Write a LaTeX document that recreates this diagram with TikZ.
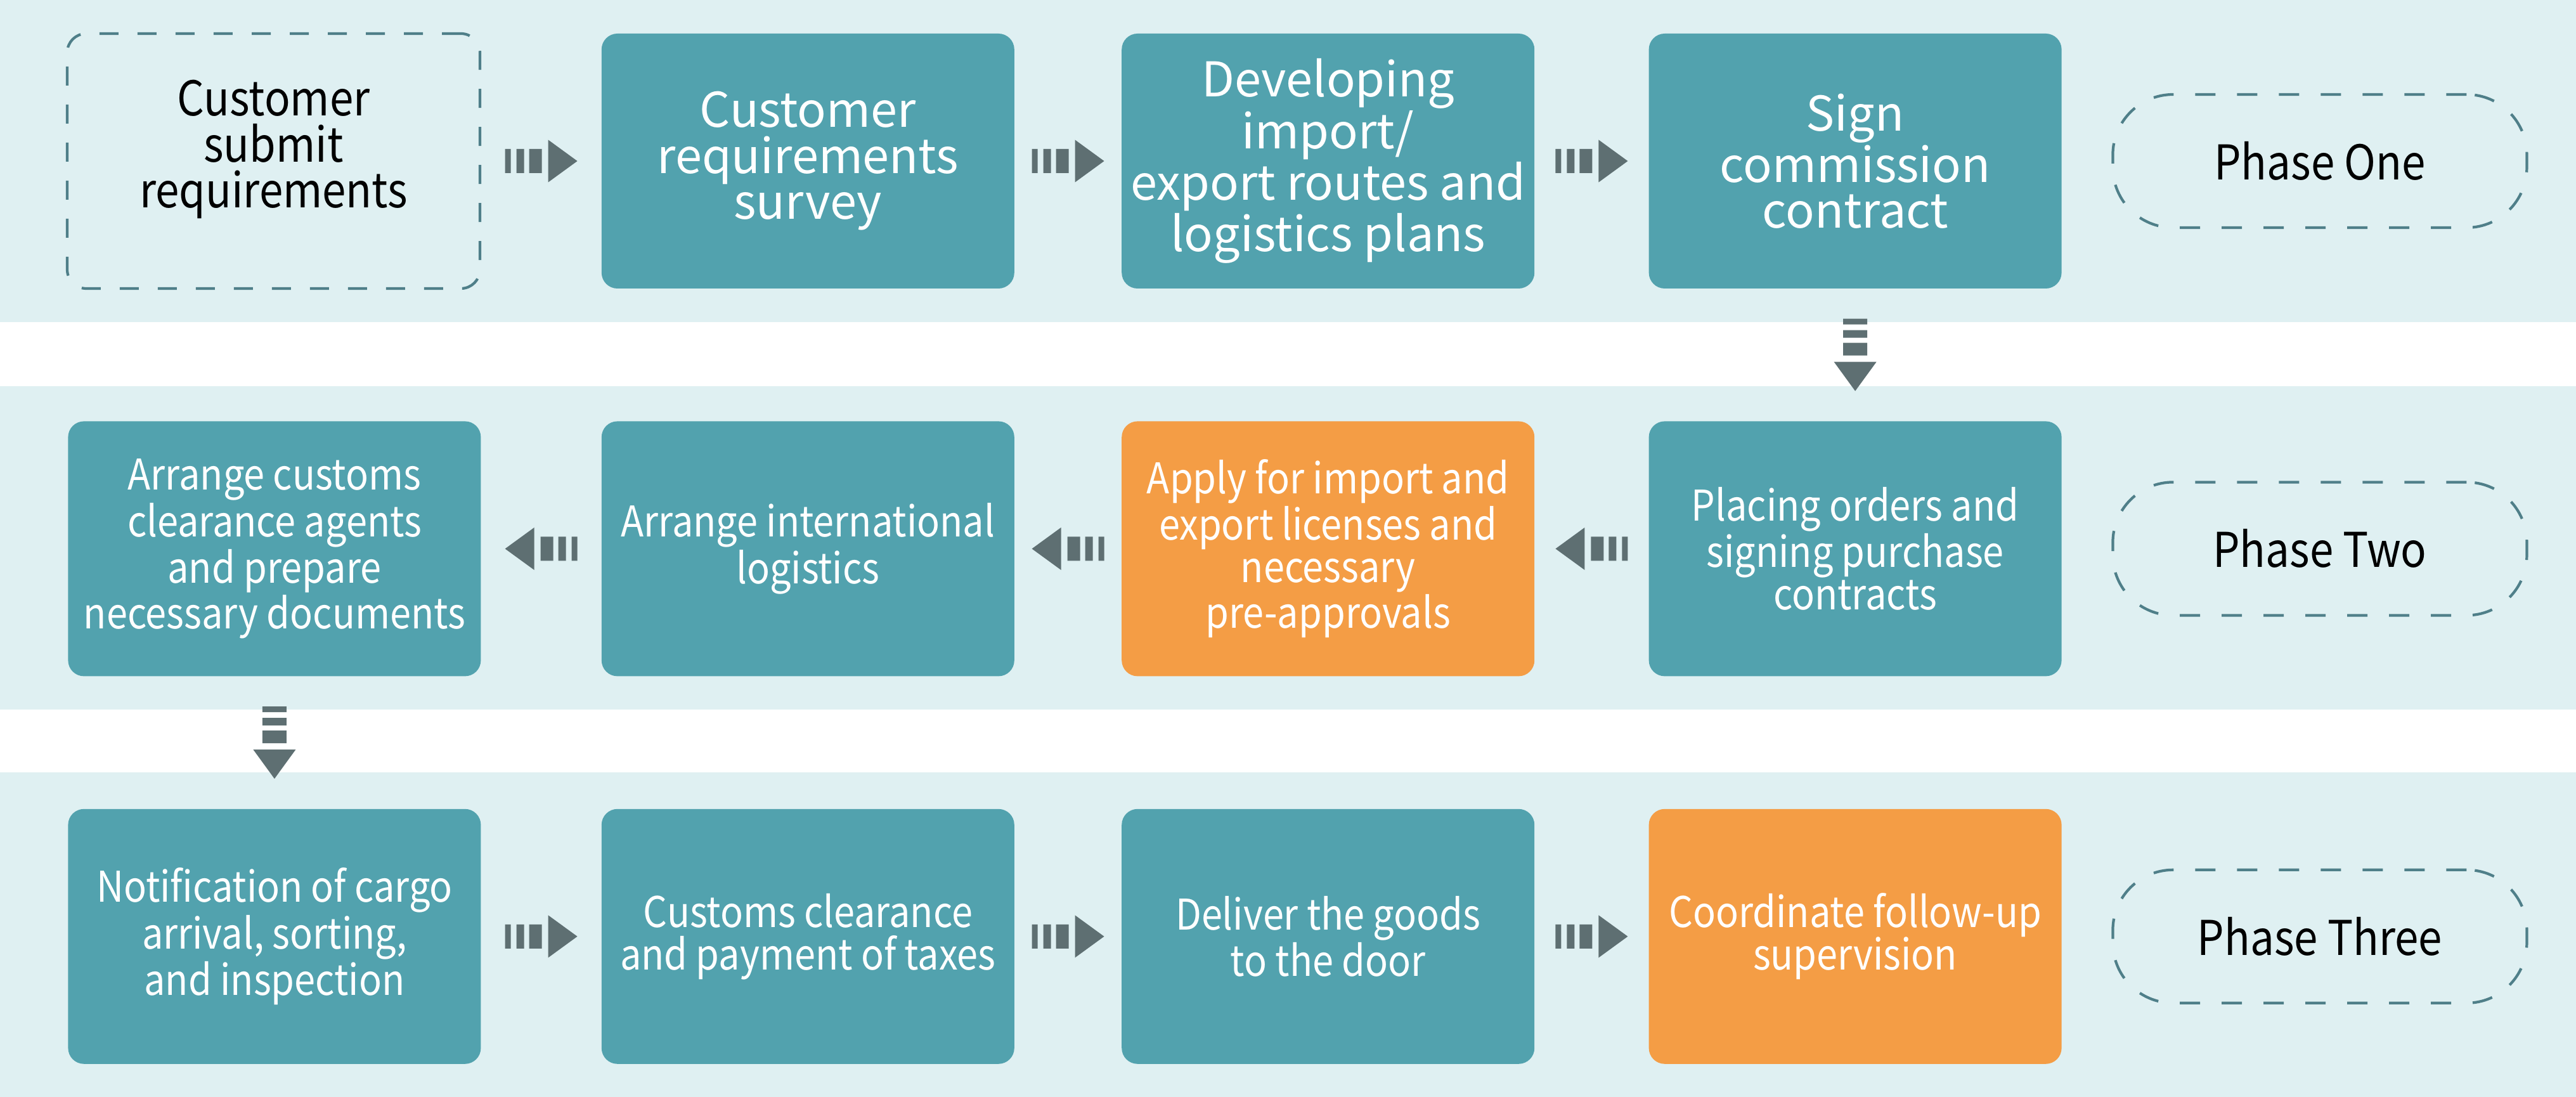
\documentclass[tikz,border=0pt]{standalone}
\usepackage{fontspec}
\setmainfont{Noto Sans CJK SC}
\newfontfamily\narrowfont[FakeStretch=0.89]{Noto Sans CJK SC}
\usetikzlibrary{positioning,calc}
\definecolor{band}{HTML}{DFF0F2}
\definecolor{teal}{HTML}{52A2AE}
\definecolor{hot}{HTML}{F49D45}
\definecolor{rim}{HTML}{4F7F89}
\definecolor{pointer}{HTML}{5E6F72}

\begin{document}
\begin{tikzpicture}[
    stepbox/.style={fill=teal, text=white, rounded corners=0.25cm, align=center,
      minimum width=6.51cm, minimum height=4.02cm, inner sep=0pt},
    hotbox/.style={stepbox, fill=hot},
    askbox/.style={draw=rim, line width=1.2pt, dash pattern=on 0.3cm off 0.3cm,
      rounded corners=0.3cm, align=center, minimum width=6.51cm, minimum height=4.02cm, inner sep=0pt},
    phasebox/.style={draw=rim, line width=1.2pt, dash pattern=on 0.32cm off 0.34cm,
      rounded corners=0.95cm, minimum width=6.53cm, minimum height=2.1cm, inner sep=0pt},
    big/.style={font=\fontsize{21.5pt}{20.6pt}\selectfont},
    bignarrow/.style={font=\narrowfont\fontsize{21.5pt}{20.6pt}\selectfont},
    small/.style={font=\narrowfont\fontsize{19pt}{19.1pt}\selectfont},
    flowarrow/.pic={
      \fill[pointer] (-0.57,-0.19) rectangle (-0.48,0.19)
        (-0.39,-0.19) rectangle (-0.27,0.19)
        (-0.19,-0.19) rectangle (0.01,0.19);
      \fill[pointer] (0.11,-0.335) -- (0.57,0) -- (0.11,0.335) -- cycle;
    }]
  \useasboundingbox (0,0) rectangle (40.63,-17.30);
  % bands
  \fill[band] (0,0) rectangle (40.63,-5.08);
  \fill[band] (0,-6.09) rectangle (40.63,-11.19);
  \fill[band] (0,-12.18) rectangle (40.63,-17.30);

  % phase one
  \node[askbox, bignarrow] (s1) at (4.315,-2.54) {Customer\\submit\\requirements\\[-0.185cm]};
  \node[stepbox, big, right=1.89cm of s1] (s2) {Customer\\requirements\\survey};
  \node[stepbox, big, right=1.68cm of s2] (s3) {Developing\\import/\\export routes and\\logistics plans};
  \node[stepbox, big, right=1.79cm of s3] (s4) {Sign\\commission\\contract};
  \node[phasebox, bignarrow, right=0.78cm of s4] (p1) {Phase One};

  % phase two
  \node[stepbox, small, below=2.08cm of s4] (t4) {Placing orders and\\signing purchase\\contracts};
  \node[hotbox, small, left=1.79cm of t4] (t3) {Apply for import and\\export licenses and\\necessary\\pre-approvals};
  \node[stepbox, small, left=1.68cm of t3] (t2) {Arrange international\\logistics};
  \node[stepbox, small, left=1.89cm of t2] (t1) {Arrange customs\\clearance agents\\and prepare\\necessary documents};
  \node[phasebox, bignarrow, right=0.78cm of t4] (p2) {Phase Two};

  % phase three
  \node[stepbox, small, below=2.08cm of t1] (u1) {Notification of cargo\\arrival, sorting,\\and inspection};
  \node[stepbox, small, right=1.89cm of u1] (u2) {Customs clearance\\and payment of taxes};
  \node[stepbox, small, right=1.68cm of u2] (u3) {Deliver the goods\\to the door};
  \node[hotbox, small, right=1.79cm of u3] (u4) {Coordinate follow-up\\supervision};
  \node[phasebox, bignarrow, right=0.78cm of u4] (p3) {Phase Three};

  % arrows
  \pic at ($(s1.east)!0.5!(s2.west)$) {flowarrow};
  \pic at ($(s2.east)!0.5!(s3.west)$) {flowarrow};
  \pic at ($(s3.east)!0.5!(s4.west)$) {flowarrow};
  \pic[rotate=-90] at ($(s4.south)!0.5!(t4.north)$) {flowarrow};
  \pic[rotate=180] at ($(t4.west)!0.5!(t3.east)$) {flowarrow};
  \pic[rotate=180] at ($(t3.west)!0.5!(t2.east)$) {flowarrow};
  \pic[rotate=180] at ($(t2.west)!0.5!(t1.east)$) {flowarrow};
  \pic[rotate=-90] at ($(t1.south)!0.5!(u1.north)$) {flowarrow};
  \pic at ($(u1.east)!0.5!(u2.west)$) {flowarrow};
  \pic at ($(u2.east)!0.5!(u3.west)$) {flowarrow};
  \pic at ($(u3.east)!0.5!(u4.west)$) {flowarrow};
\end{tikzpicture}
\end{document}
